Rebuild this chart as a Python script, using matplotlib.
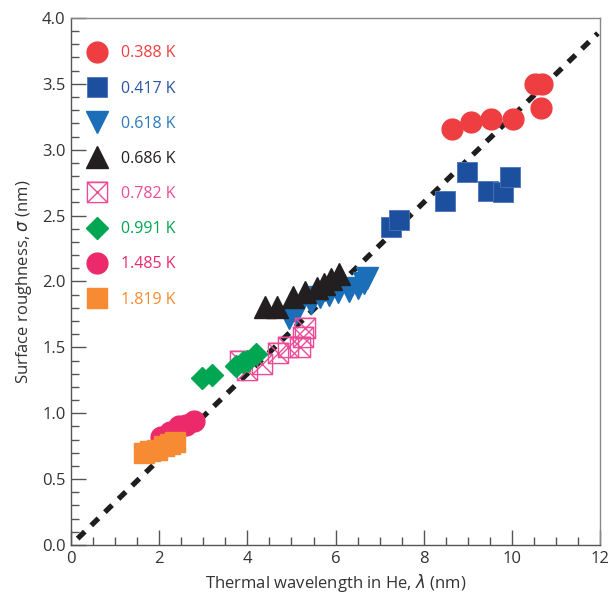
import numpy as np
import matplotlib
matplotlib.use("Agg")
import matplotlib.pyplot as plt
from matplotlib.path import Path
from matplotlib.lines import Line2D

plt.rcParams.update({
    'font.family': ['Open Sans', 'DejaVu Sans'],
    'font.size': 12,
    'mathtext.fontset': 'dejavusans',
})

# data (lambda in nm, sigma in nm)
x_0388 = [8.64, 9.07, 9.52, 10.02, 10.52, 10.68, 10.66]
y_0388 = [3.16, 3.21, 3.23, 3.23, 3.50, 3.50, 3.32]

x_0417 = [7.26, 7.44, 8.48, 8.98, 9.46, 9.80, 9.95]
y_0417 = [2.41, 2.47, 2.61, 2.83, 2.69, 2.68, 2.79]

x_0618 = [4.95, 5.10, 5.45, 5.65, 5.85, 6.05, 6.30, 6.50, 6.65, 6.72]
y_0618 = [1.72, 1.76, 1.84, 1.88, 1.90, 1.92, 1.93, 1.95, 1.99, 2.03]

x_0686 = [4.40, 4.67, 5.03, 5.31, 5.58, 5.74, 5.90, 6.08]
y_0686 = [1.81, 1.81, 1.88, 1.92, 1.95, 1.98, 2.02, 2.06]

x_0782 = [3.83, 3.99, 4.33, 4.69, 4.92, 5.19, 5.26, 5.31]
y_0782 = [1.40, 1.33, 1.37, 1.46, 1.50, 1.50, 1.58, 1.65]

x_0991 = [2.97, 3.20, 3.75, 3.90, 4.00, 4.20]
y_0991 = [1.27, 1.29, 1.36, 1.39, 1.40, 1.45]

x_1485 = [2.05, 2.25, 2.45, 2.60, 2.80]
y_1485 = [0.82, 0.86, 0.90, 0.91, 0.94]

x_1819 = [1.65, 1.80, 1.95, 2.10, 2.25, 2.35]
y_1819 = [0.70, 0.71, 0.72, 0.75, 0.77, 0.78]

fit_x = [0.15, 11.95]
fit_slope = 0.325

# square with a cross inside
boxx = Path([(-1, -1), (1, -1), (1, 1), (-1, 1), (-1, -1), (1, 1), (-1, 1), (1, -1)])

series = [
    ('0.388 K', x_0388, y_0388, dict(marker='o', ms=15, color='#EF3E42'), '#EF3E42'),
    ('0.417 K', x_0417, y_0417, dict(marker='s', ms=15, color='#1D4F9F', mec='#4A73B8', mew=0.6), '#2B56A4'),
    ('0.618 K', x_0618, y_0618, dict(marker='v', ms=16, color='#1A6FB8'), '#2A7BC0'),
    ('0.686 K', x_0686, y_0686, dict(marker='^', ms=16, color='#231F20'), '#231F20'),
    ('0.782 K', x_0782, y_0782, dict(marker=boxx, ms=14.5, mfc='none', mec='#EA4C97', mew=1.0), '#EA4C97'),
    ('0.991 K', x_0991, y_0991, dict(marker='D', ms=11.5, color='#00A651'), '#00A651'),
    ('1.485 K', x_1485, y_1485, dict(marker='o', ms=15, color='#EC2A6B'), '#EC2A6B'),
    ('1.819 K', x_1819, y_1819, dict(marker='s', ms=15, color='#F68B33'), '#F68B33'),
]

fig = plt.figure(figsize=(6.08, 5.98), dpi=100)
ax = fig.add_axes([0.1168, 0.0886, 0.8702, 0.8814])

fx = np.array(fit_x)
ax.plot(fx, fit_slope * fx, color='#1E1E1E', lw=3.8,
        linestyle=(0, (1.9, 1.7)), dash_capstyle='butt', zorder=1)

handles = []
labels = []
label_colors = []
for name, xs, ys, style, tcol in series:
    ax.plot(xs, ys, linestyle='none', zorder=2, **style)
    handles.append(Line2D([], [], linestyle='none', **style))
    labels.append(name)
    label_colors.append(tcol)

ax.legend(handles, labels, loc='upper left', bbox_to_anchor=(0.034, 0.948),
          frameon=False, borderaxespad=0, borderpad=0, handlelength=1.0,
          handletextpad=1.0, labelspacing=1.2, fontsize=11.5,
          labelcolor=label_colors)

ax.set_xlim(0, 12)
ax.set_ylim(0, 4.0)
ax.set_xticks(np.arange(0, 13, 2))
ax.set_xticks(np.arange(0, 12.01, 0.5), minor=True)
ax.set_yticks(np.arange(0, 4.01, 0.5))
ax.set_yticks(np.arange(0, 4.001, 0.1), minor=True)
ax.set_yticklabels([f'{v:.1f}' for v in np.arange(0, 4.01, 0.5)])

ax.tick_params(which='both', direction='in', top=False, right=False,
               colors='#555555', labelcolor='#333333', labelsize=12, width=1.0)
ax.tick_params(which='major', length=11, pad=4)
ax.tick_params(which='minor', length=6)

for side in ['left', 'bottom']:
    ax.spines[side].set_color('#555555')
    ax.spines[side].set_linewidth(1.0)
for side in ['top', 'right']:
    ax.spines[side].set_color('#888888')
    ax.spines[side].set_linewidth(1.0)

ax.set_xlabel(r'Thermal wavelength in He, $\lambda$ (nm)', color='#333333', fontsize=12, labelpad=4)
ax.set_ylabel(r'Surface roughness, $\sigma$ (nm)', color='#333333', fontsize=12, labelpad=6)

fig.savefig('out.png', dpi=100)
